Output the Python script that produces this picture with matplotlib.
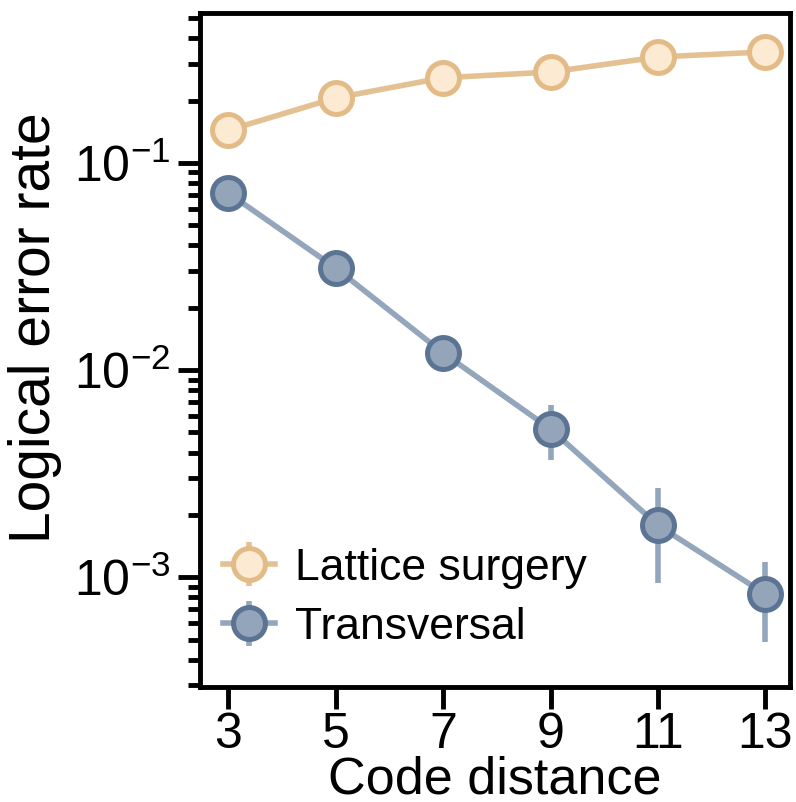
import numpy as np
import matplotlib.pyplot as plt
from matplotlib.ticker import LogLocator

plt.rcParams['font.family'] = ['Liberation Sans', 'DejaVu Sans']
plt.rcParams['mathtext.fontset'] = 'custom'
plt.rcParams['mathtext.rm'] = 'Liberation Sans'

# code distances
distance = [3, 5, 7, 9, 11, 13]

# lattice surgery: logical error rate and error bar bounds
lattice = [0.144, 0.206, 0.258, 0.275, 0.325, 0.344]
lattice_lo = [0.139, 0.200, 0.251, 0.268, 0.317, 0.335]
lattice_hi = [0.149, 0.212, 0.265, 0.282, 0.333, 0.353]

# transversal: logical error rate and error bar bounds
transversal = [0.0716, 0.0311, 0.0121, 0.00519, 0.00178, 0.000828]
transversal_lo = [0.0690, 0.0295, 0.0110, 0.00367, 0.000935, 0.000485]
transversal_hi = [0.0742, 0.0328, 0.0133, 0.00678, 0.00269, 0.00118]

# colours
tan_edge, tan_face, tan_line = '#E2BB87', '#FCEAD3', '#E4C192'
blue_edge, blue_face, blue_line = '#5B7493', '#94A5B9', '#93A6BB'

fig = plt.figure(figsize=(7.96, 8.02), dpi=100)
ax = fig.add_axes([0.251, 0.1434, 0.741, 0.8404])

def err(vals, lo, hi):
    vals, lo, hi = np.array(vals), np.array(lo), np.array(hi)
    return [vals - lo, hi - vals]

ax.errorbar(distance, lattice, yerr=err(lattice, lattice_lo, lattice_hi),
            color=tan_line, lw=4, elinewidth=4, capsize=0,
            marker='o', ms=23, mfc=tan_face, mec=tan_edge, mew=3.6,
            label='Lattice surgery', zorder=3)
ax.errorbar(distance, transversal, yerr=err(transversal, transversal_lo, transversal_hi),
            color=blue_line, lw=4, elinewidth=4, capsize=0,
            marker='o', ms=23, mfc=blue_face, mec=blue_edge, mew=3.6,
            label='Transversal', zorder=3)

ax.set_yscale('log')
ax.set_ylim(2.95e-4, 0.53)
ax.set_xlim(2.47, 13.45)
ax.set_xticks(distance)
ax.set_xticklabels([str(d) for d in distance])
ax.minorticks_off()
ax.yaxis.set_minor_locator(LogLocator(base=10, subs=np.arange(2, 10)))

for s in ax.spines.values():
    s.set_linewidth(3.5)
ax.tick_params(axis='both', which='major', direction='out', length=16, width=3.5,
               labelsize=36)
ax.tick_params(axis='x', which='major', pad=2)
ax.tick_params(axis='y', which='major', pad=5)
ax.tick_params(axis='y', which='minor', direction='out', length=9, width=3.5)
ax.tick_params(axis='x', which='minor', length=0)

ax.set_xlabel('Code distance', fontsize=37.5, va='top')
ax.xaxis.set_label_coords(0.5, -0.102)
ax.set_ylabel('Logical error rate', fontsize=41)
ax.yaxis.set_label_coords(-0.234, 0.533)

ax.legend(loc='lower left', bbox_to_anchor=(0.039, 0.058), frameon=False, fontsize=32,
          borderpad=0, borderaxespad=0,
          handlelength=1.17, handletextpad=0.45, labelspacing=0.41)

fig.savefig('out.png', dpi=100)
